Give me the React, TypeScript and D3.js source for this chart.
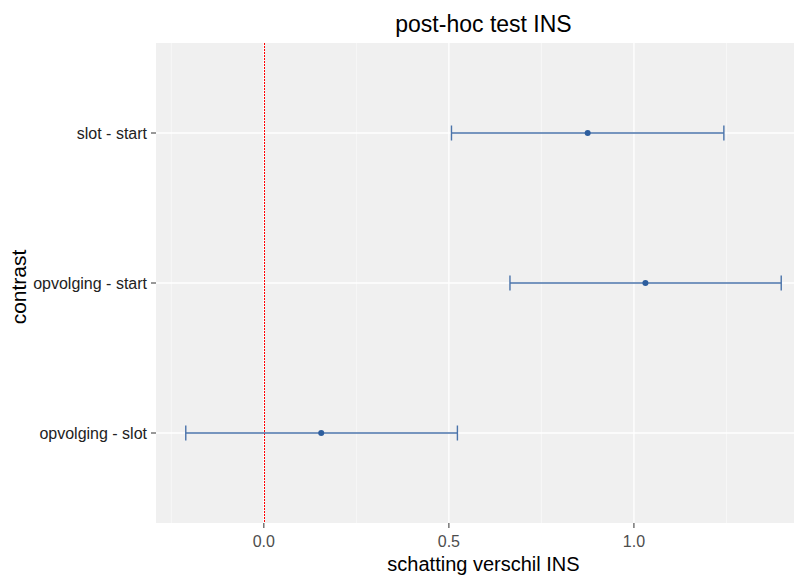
import React, { useRef, useEffect } from 'react';
import * as d3 from 'd3';

// contrasts, top to bottom
const contrasts = ['slot - start', 'opvolging - start', 'opvolging - slot'];
const estimates = [0.875, 1.031, 0.155];
const lowers = [0.507, 0.665, -0.211];
const uppers = [1.243, 1.398, 0.523];
const xTicks = [0, 0.5, 1.0];
const xMinor = [-0.25, 0.25, 0.75, 1.25];

const App = () => {
  const svgRef = useRef<SVGSVGElement>(null);
  const width = 794;
  const height = 577;
  const panel = { left: 156, right: 811, top: 43, bottom: 523 };

  useEffect(() => {
    const svg = d3.select(svgRef.current);
    svg.selectAll('*').remove();

    const lo = d3.min(lowers) as number;
    const hi = d3.max(uppers) as number;
    const pad = (hi - lo) * 0.05;

    const xScale = d3.scaleLinear()
      .domain([lo - pad, hi + pad])
      .range([panel.left, panel.right]);

    const yScale = d3.scalePoint<string>()
      .domain(contrasts)
      .range([panel.top, panel.bottom])
      .padding(0.6);

    const font = "'Liberation Sans', Arial, sans-serif";

    svg.append('rect')
      .attr('width', width).attr('height', height).attr('fill', '#ffffff');

    const g = svg.append('g');
    g.append('rect')
      .attr('x', panel.left).attr('y', panel.top)
      .attr('width', panel.right - panel.left)
      .attr('height', panel.bottom - panel.top)
      .attr('fill', '#f0f0f0');

    // grid
    g.selectAll('.minor').data(xMinor).join('line')
      .attr('x1', d => xScale(d)).attr('x2', d => xScale(d))
      .attr('y1', panel.top).attr('y2', panel.bottom)
      .attr('stroke', '#fbfbfb').attr('stroke-width', 0.7);
    g.selectAll('.major').data(xTicks).join('line')
      .attr('x1', d => xScale(d)).attr('x2', d => xScale(d))
      .attr('y1', panel.top).attr('y2', panel.bottom)
      .attr('stroke', '#ffffff').attr('stroke-width', 1.3);
    g.selectAll('.ygrid').data(contrasts).join('line')
      .attr('x1', panel.left).attr('x2', panel.right)
      .attr('y1', d => yScale(d) as number).attr('y2', d => yScale(d) as number)
      .attr('stroke', '#ffffff').attr('stroke-width', 1.3);

    // zero reference line
    const x0 = Math.round(xScale(0)) + 0.5;
    g.append('line')
      .attr('x1', x0).attr('x2', x0)
      .attr('y1', panel.top).attr('y2', panel.bottom)
      .attr('stroke', '#ff0000').attr('stroke-width', 1)
      .attr('stroke-dasharray', '2,1');

    // error bars
    const bars = g.selectAll('.bar').data(contrasts).join('g');
    const col = '#4a73aa';
    bars.append('line')
      .attr('x1', (_, i) => xScale(lowers[i])).attr('x2', (_, i) => xScale(uppers[i]))
      .attr('y1', d => yScale(d) as number).attr('y2', d => yScale(d) as number)
      .attr('stroke', col).attr('stroke-width', 1.4);
    bars.append('line')
      .attr('x1', (_, i) => xScale(lowers[i])).attr('x2', (_, i) => xScale(lowers[i]))
      .attr('y1', d => (yScale(d) as number) - 7.5).attr('y2', d => (yScale(d) as number) + 7.5)
      .attr('stroke', col).attr('stroke-width', 1.4);
    bars.append('line')
      .attr('x1', (_, i) => xScale(uppers[i])).attr('x2', (_, i) => xScale(uppers[i]))
      .attr('y1', d => (yScale(d) as number) - 7.5).attr('y2', d => (yScale(d) as number) + 7.5)
      .attr('stroke', col).attr('stroke-width', 1.4);
    bars.append('circle')
      .attr('cx', (_, i) => xScale(estimates[i]))
      .attr('cy', d => yScale(d) as number)
      .attr('r', 3).attr('fill', '#2d5e9e');

    // x axis
    const xa = svg.append('g');
    xa.selectAll('line').data(xTicks).join('line')
      .attr('x1', d => xScale(d)).attr('x2', d => xScale(d))
      .attr('y1', panel.bottom).attr('y2', panel.bottom + 5)
      .attr('stroke', '#333333').attr('stroke-width', 1);
    xa.selectAll('text').data(xTicks).join('text')
      .attr('x', d => xScale(d)).attr('y', 547)
      .attr('text-anchor', 'middle')
      .attr('font-family', font).attr('font-size', 16).attr('fill', '#4d4d4d')
      .text(d => d3.format('.1f')(d));

    // y axis
    const ya = svg.append('g');
    ya.selectAll('line').data(contrasts).join('line')
      .attr('x1', panel.left - 5).attr('x2', panel.left)
      .attr('y1', d => yScale(d) as number).attr('y2', d => yScale(d) as number)
      .attr('stroke', '#333333').attr('stroke-width', 1);
    ya.selectAll('text').data(contrasts).join('text')
      .attr('x', panel.left - 9).attr('y', d => yScale(d) as number)
      .attr('dy', '0.35em')
      .attr('text-anchor', 'end')
      .attr('font-family', font).attr('font-size', 16).attr('fill', '#222222')
      .text(d => d);

    // titles
    svg.append('text')
      .attr('x', (panel.left + panel.right) / 2).attr('y', 32)
      .attr('text-anchor', 'middle')
      .attr('font-family', font).attr('font-size', 23).attr('fill', '#000000')
      .text('post-hoc test INS');

    svg.append('text')
      .attr('x', (panel.left + panel.right) / 2).attr('y', 571)
      .attr('text-anchor', 'middle')
      .attr('font-family', font).attr('font-size', 20).attr('fill', '#000000')
      .text('schatting verschil INS');

    svg.append('text')
      .attr('transform', `translate(25.5, ${(panel.top + panel.bottom) / 2 + 4}) rotate(-90)`)
      .attr('text-anchor', 'middle')
      .attr('font-family', font).attr('font-size', 21).attr('fill', '#000000')
      .text('contrast');
  }, []);

  return (
    <svg
      ref={svgRef}
      width={width}
      height={height}
      style={{ position: 'absolute', left: 0, top: 0, display: 'block', overflow: 'hidden' }}
    />
  );
};

export default App;
